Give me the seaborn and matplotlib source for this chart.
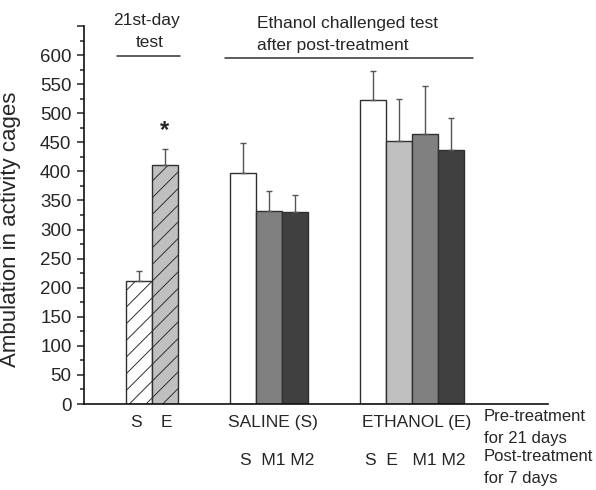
import numpy as np
import pandas as pd
import matplotlib
matplotlib.use("Agg")
import matplotlib.pyplot as plt
import seaborn as sns

# values
bar_ids = ["21d S", "21d E", "SAL S", "SAL M1", "SAL M2", "ETH S", "ETH E", "ETH M1", "ETH M2"]
means = [212, 411, 397, 332, 330, 523, 453, 465, 436]
errors = [17, 27, 52, 34, 30, 50, 71, 82, 55]
bar_colors = ["#ffffff", "#c0c0c0", "#ffffff", "#808080", "#404040",
              "#ffffff", "#c0c0c0", "#808080", "#404040"]
hatched = [True, True, False, False, False, False, False, False, False]
yticks = list(range(0, 651, 50))
ytick_labels = [str(v) if v <= 600 else "" for v in yticks]

# slot of each bar along x (gaps between groups)
slots = [0, 1, 4, 5, 6, 9, 10, 11, 12]

df = pd.DataFrame({"slot": slots, "bar": bar_ids, "value": means})

sns.set_style("ticks")
plt.rcParams["font.family"] = ["Liberation Sans", "DejaVu Sans"]
plt.rcParams["hatch.linewidth"] = 0.7

W, H = 596, 490
fig = plt.figure(figsize=(W / 100, H / 100), dpi=100)
ax = fig.add_axes([84 / W, 86 / H, 464 / W, 378 / H])

sns.barplot(data=df, x="slot", y="value", hue="bar", hue_order=bar_ids,
            palette=dict(zip(bar_ids, bar_colors)), native_scale=True,
            dodge=False, width=1.0, errorbar=None, legend=False,
            edgecolor="#303030", linewidth=1.0, ax=ax)

for p in ax.patches:
    cx = p.get_x() + p.get_width() / 2
    i = int(np.argmin([abs(cx - s) for s in slots]))
    if hatched[i]:
        p.set_hatch("//")

ax.errorbar(slots, means, yerr=[np.zeros(len(errors)), errors], fmt="none",
            ecolor="#555555", elinewidth=1.0, capsize=2.5, capthick=1.0, zorder=5)

ax.set_xlim(-2.115, 15.73)
ax.set_ylim(0, 650)
ax.set_yticks(yticks)
ax.set_yticklabels(ytick_labels, fontsize=13.5)
ax.set_yticks(np.arange(25, 650, 50), minor=True)
ax.tick_params(axis="y", which="major", length=5, width=1.1, pad=4)
ax.tick_params(axis="y", which="minor", length=3, width=1.1)
ax.set_xticks([])
ax.set_xlabel("")
ax.set_ylabel("Ambulation in activity cages", fontsize=16)
ax.yaxis.set_label_coords((21 - 84) / 464, (404 - 229) / 378)
for s in ["top", "right"]:
    ax.spines[s].set_visible(False)
for s in ["left", "bottom"]:
    ax.spines[s].set_linewidth(1.2)
    ax.spines[s].set_color("#101010")

def fx(px):
    return px / W

def fy(py):
    return 1 - py / H

fs = 12.5
fs2 = 12
# header annotations
fig.text(fx(147), fy(25), "21st-day", ha="center", va="baseline", fontsize=fs)
fig.text(fx(150), fy(47), "test", ha="center", va="baseline", fontsize=fs)
fig.add_artist(plt.Line2D([fx(117), fx(180)], [fy(56), fy(56)], color="#303030", lw=1.1))
fig.text(fx(257), fy(28), "Ethanol challenged test", ha="left", va="baseline", fontsize=fs)
fig.text(fx(257), fy(50), "after post-treatment", ha="left", va="baseline", fontsize=fs)
fig.add_artist(plt.Line2D([fx(225), fx(473)], [fy(58), fy(58)], color="#303030", lw=1.1))

ax.text(slots[1], means[1] + errors[1] + 12, "*", ha="center", va="bottom",
        fontsize=17, fontweight="bold")

# bottom labels
fig.text(fx(136), fy(427), "S", ha="center", va="baseline", fontsize=fs)
fig.text(fx(166), fy(427), "E", ha="center", va="baseline", fontsize=fs)
fig.text(fx(273), fy(427), "SALINE (S)", ha="center", va="baseline", fontsize=fs)
fig.text(fx(417), fy(427), "ETHANOL (E)", ha="center", va="baseline", fontsize=fs)
fig.text(fx(484), fy(421), "Pre-treatment", ha="left", va="baseline", fontsize=fs2)
fig.text(fx(484), fy(443), "for 21 days", ha="left", va="baseline", fontsize=fs2)
fig.text(fx(277), fy(465), "S  M1 M2", ha="center", va="baseline", fontsize=fs)
fig.text(fx(415), fy(465), "S  E   M1 M2", ha="center", va="baseline", fontsize=fs)
fig.text(fx(484), fy(461), "Post-treatment", ha="left", va="baseline", fontsize=fs2)
fig.text(fx(484), fy(483), "for 7 days", ha="left", va="baseline", fontsize=fs2)

fig.savefig("out.png", dpi=100)
